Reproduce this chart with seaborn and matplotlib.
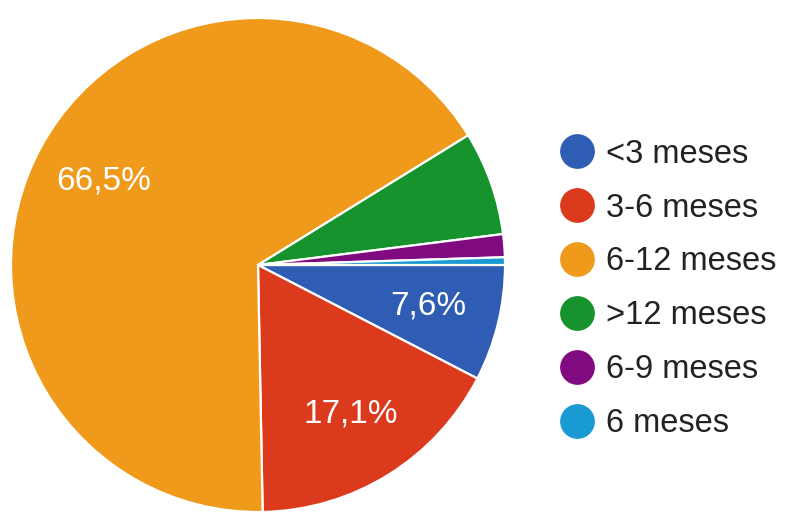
import matplotlib
matplotlib.use("Agg")
import numpy as np
import matplotlib.pyplot as plt
from matplotlib.lines import Line2D
import seaborn as sns

categories = ['<3 meses', '3-6 meses', '6-12 meses', '>12 meses', '6-9 meses', '6 meses']
values = [7.6, 17.1, 66.5, 6.8, 1.5, 0.5]
colors = ['#2f5db3', '#dc3a1c', '#f09a1c', '#16932c', '#800a80', '#1a9ad2']

sns.set_theme(style="white")
plt.rcParams['font.family'] = ['Liberation Sans', 'DejaVu Sans']

fig = plt.figure(figsize=(8, 5.29), dpi=100)
# square axes holding the pie: center ~ (258, 265) px, radius ~ 247 px
ax = fig.add_axes([11 / 800, 17 / 529, 494 / 800, 494 / 529])

# Google-style: labels only on the bigger slices
labels_pct = [f"{v:.1f}%".replace('.', ',') if v >= 7 else '' for v in values]

wedges, _ = ax.pie(values, colors=colors, startangle=0, counterclock=False,
                   wedgeprops=dict(edgecolor='white', linewidth=1.6),
                   radius=1)
for w, txt in zip(wedges, labels_pct):
    if not txt:
        continue
    ang = np.deg2rad((w.theta1 + w.theta2) / 2)
    ax.text(0.71 * np.cos(ang), 0.71 * np.sin(ang), txt, ha='center', va='center',
            color='white', fontsize=24)
ax.set_xlim(-1, 1)
ax.set_ylim(-1, 1)
ax.set_aspect('equal')
ax.axis('off')

handles = [Line2D([0], [0], marker='o', linestyle='', markersize=24,
                  markerfacecolor=c, markeredgecolor=c) for c in colors]
fig.legend(handles, categories, loc='center left', bbox_to_anchor=(0.676, 0.454),
           frameon=False, fontsize=23.5, labelspacing=0.7, handletextpad=0.3,
           handlelength=1.2, borderpad=0, labelcolor='#222222')

fig.savefig('out.png', dpi=100, facecolor='white')
